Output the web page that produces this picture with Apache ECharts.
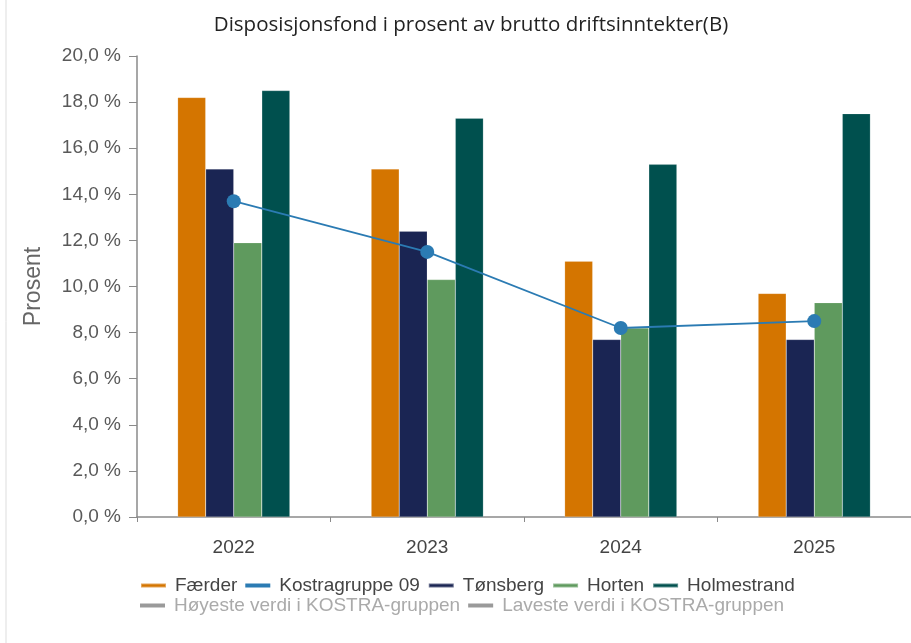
<!DOCTYPE html>
<html>
<head>
<meta charset="utf-8">
<script src="https://cdn.jsdelivr.net/npm/echarts@6/dist/echarts.min.js"></script>
<style>
  html, body { margin: 0; padding: 0; background: #fff; }
  #chart { width: 911px; height: 643px; }
</style>
</head>
<body>
<div id="chart"></div>
<script>
const years = ['2022', '2023', '2024', '2025'];
const faerder = [18.2, 15.1, 11.1, 9.7];
const kostra09 = [13.7, 11.5, 8.2, 8.5];
const tonsberg = [15.1, 12.4, 7.7, 7.7];
const horten = [11.9, 10.3, 8.2, 9.3];
const holmestrand = [18.5, 17.3, 15.3, 17.5];
const legendRow1 = ['Færder', 'Kostragruppe 09', 'Tønsberg', 'Horten', 'Holmestrand'];
const legendRow2 = ['Høyeste verdi i KOSTRA-gruppen', 'Laveste verdi i KOSTRA-gruppen'];

const colors = {
  faerder: '#d47500',
  kostra: '#2b7bb3',
  tonsberg: '#1a2553',
  horten: '#5f9a5e',
  holmestrand: '#00504e',
  grey: '#9a9a9a'
};

const chart = echarts.init(document.getElementById('chart'));

const barSeries = (name, data, color) => ({
  name: name,
  type: 'bar',
  data: data,
  barGap: '0%',
  barCategoryGap: '42%',
  itemStyle: { color: color, borderColor: 'rgba(255,255,255,0.35)', borderWidth: 0.5 },
  z: 2
});

const legendBase = {
  left: 135,
  icon: 'rect',
  itemWidth: 25,
  itemHeight: 4,
  itemGap: 8,
  selectedMode: false,
  textStyle: { fontFamily: 'Liberation Sans', fontSize: 19, color: '#444', padding: [0, 0, 0, 4] }
};

const option = {
  animation: false,
  title: {
    text: 'Disposisjonsfond i prosent av brutto driftsinntekter(B)',
    left: 466,
    textAlign: 'center',
    top: 10,
    textStyle: { fontFamily: 'Open Sans', fontSize: 20.5, fontWeight: 'normal', color: '#222' }
  },
  legend: [
    Object.assign({}, legendBase, { top: 571, data: legendRow1 }),
    Object.assign({}, legendBase, {
      top: 591,
      data: legendRow2,
      textStyle: Object.assign({}, legendBase.textStyle, { color: '#aaa' })
    })
  ],
  grid: { left: 137, right: 0, top: 56, bottom: 126 },
  xAxis: {
    type: 'category',
    data: years,
    axisLine: { lineStyle: { color: '#8a8a8a', width: 1.5 } },
    axisTick: { show: true, length: 5, lineStyle: { color: '#8a8a8a' } },
    axisLabel: { fontFamily: 'Liberation Sans', fontSize: 19, color: '#444', margin: 21 }
  },
  yAxis: {
    type: 'value',
    min: 0,
    max: 20,
    interval: 2,
    name: 'Prosent',
    nameLocation: 'middle',
    nameGap: 92,
    nameTextStyle: { fontFamily: 'Liberation Sans', fontSize: 23, color: '#666' },
    axisLine: { show: true, lineStyle: { color: '#8a8a8a', width: 1.5 } },
    axisTick: { show: true, length: 8, lineStyle: { color: '#8a8a8a' } },
    splitLine: { show: false },
    axisLabel: {
      fontFamily: 'Liberation Sans',
      fontSize: 19,
      color: '#595959',
      margin: 16,
      formatter: v => v.toFixed(1).replace('.', ',') + ' %'
    }
  },
  graphic: [
    { type: 'line', shape: { x1: 6, y1: 0, x2: 6, y2: 643 }, style: { stroke: '#ddd', lineWidth: 1 } }
  ],
  series: [
    barSeries('Færder', faerder, colors.faerder),
    {
      name: 'Kostragruppe 09',
      type: 'line',
      data: kostra09,
      symbol: 'circle',
      symbolSize: 14,
      lineStyle: { color: colors.kostra, width: 1.8 },
      itemStyle: { color: colors.kostra },
      z: 5
    },
    barSeries('Tønsberg', tonsberg, colors.tonsberg),
    barSeries('Horten', horten, colors.horten),
    barSeries('Holmestrand', holmestrand, colors.holmestrand),
    { name: legendRow2[0], type: 'line', data: [], itemStyle: { color: colors.grey }, lineStyle: { color: colors.grey } },
    { name: legendRow2[1], type: 'line', data: [], itemStyle: { color: colors.grey }, lineStyle: { color: colors.grey } }
  ]
};

chart.setOption(option);
</script>
</body>
</html>
